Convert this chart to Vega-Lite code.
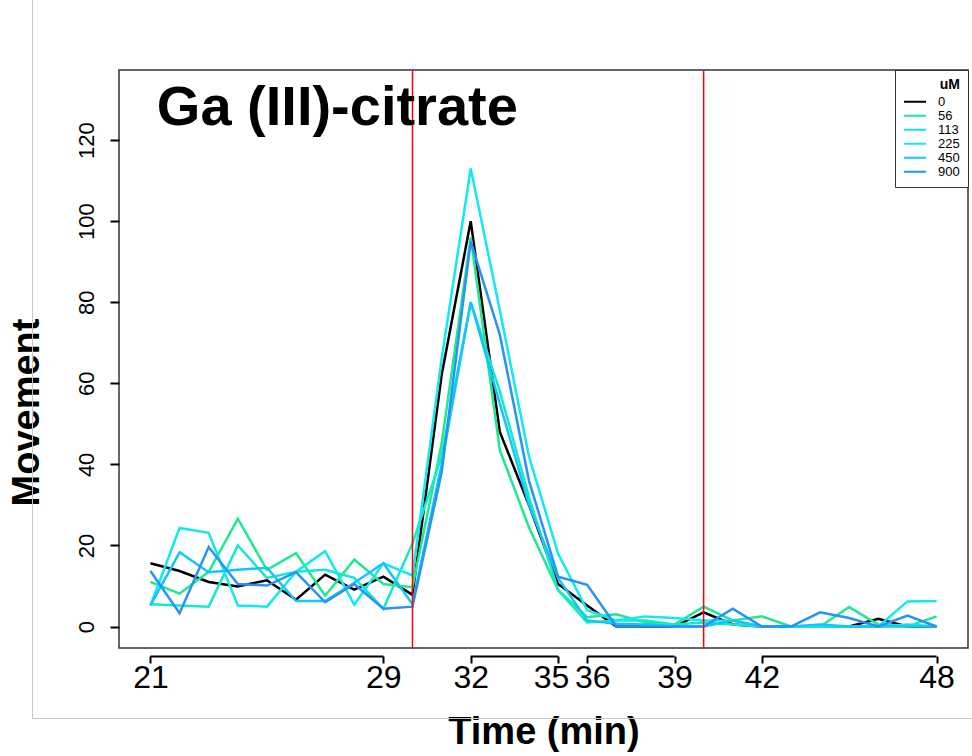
{
  "$schema": "https://vega.github.io/schema/vega-lite/v6.json",
  "autosize": "none",
  "width": 849,
  "height": 578,
  "padding": {"left": 119, "top": 70, "right": 4, "bottom": 108},
  "background": "white",
  "config": {
    "view": {"stroke": "#333333", "strokeWidth": 1.5},
    "font": "Liberation Sans",
    "axisX": {
      "domain": false, "grid": false, "ticks": true, "tickSize": 7, "tickColor": "black", "tickWidth": 2,
      "offset": 8, "labelFontSize": 32, "labelColor": "black", "labelPadding": -1,
      "labelOverlap": false, "labelFlush": false,
      "titleFontSize": 38, "titleFontWeight": "bold", "titleColor": "black", "titlePadding": 20
    },
    "axisY": {
      "domain": false, "grid": false, "ticks": true, "tickSize": 9, "tickColor": "black", "tickWidth": 2,
      "labelAngle": -90, "labelFontSize": 22, "labelColor": "black", "labelPadding": 12,
      "labelAlign": "center", "labelBaseline": "bottom",
      "titleFontSize": 38, "titleFontWeight": "bold", "titleColor": "black",
      "titleAngle": 270, "titleBaseline": "alphabetic", "titleAlign": "center", "titleX": -81, "titleY": 342
    }
  },
  "datasets": {
    "brackets": [
      {"from": 21, "to": 29},
      {"from": 32, "to": 35},
      {"from": 36, "to": 39},
      {"from": 42, "to": 48}
    ],
    "markers": [{"t": 30}, {"t": 40}],
    "series": [
      {"t": 21, "uM": "0", "v": 15.6}, {"t": 22, "uM": "0", "v": 13.7}, {"t": 23, "uM": "0", "v": 11.0}, {"t": 24, "uM": "0", "v": 9.9},
      {"t": 25, "uM": "0", "v": 11.4}, {"t": 26, "uM": "0", "v": 6.6}, {"t": 27, "uM": "0", "v": 12.8}, {"t": 28, "uM": "0", "v": 9.1},
      {"t": 29, "uM": "0", "v": 12.3}, {"t": 30, "uM": "0", "v": 7.8}, {"t": 31, "uM": "0", "v": 62}, {"t": 32, "uM": "0", "v": 100},
      {"t": 33, "uM": "0", "v": 48}, {"t": 34, "uM": "0", "v": 30}, {"t": 35, "uM": "0", "v": 10.5}, {"t": 36, "uM": "0", "v": 5.2},
      {"t": 37, "uM": "0", "v": 0}, {"t": 38, "uM": "0", "v": 0}, {"t": 39, "uM": "0", "v": 0}, {"t": 40, "uM": "0", "v": 3.5},
      {"t": 41, "uM": "0", "v": 0.5}, {"t": 42, "uM": "0", "v": 0}, {"t": 43, "uM": "0", "v": 0}, {"t": 44, "uM": "0", "v": 0},
      {"t": 45, "uM": "0", "v": 0}, {"t": 46, "uM": "0", "v": 1.9}, {"t": 47, "uM": "0", "v": 0}, {"t": 48, "uM": "0", "v": 0},

      {"t": 21, "uM": "56", "v": 11.0}, {"t": 22, "uM": "56", "v": 8.1}, {"t": 23, "uM": "56", "v": 13.5}, {"t": 24, "uM": "56", "v": 26.6},
      {"t": 25, "uM": "56", "v": 14.0}, {"t": 26, "uM": "56", "v": 18.1}, {"t": 27, "uM": "56", "v": 7.6}, {"t": 28, "uM": "56", "v": 16.5},
      {"t": 29, "uM": "56", "v": 10.5}, {"t": 30, "uM": "56", "v": 9.7}, {"t": 31, "uM": "56", "v": 45}, {"t": 32, "uM": "56", "v": 96},
      {"t": 33, "uM": "56", "v": 43.5}, {"t": 34, "uM": "56", "v": 24.5}, {"t": 35, "uM": "56", "v": 9}, {"t": 36, "uM": "56", "v": 2.3},
      {"t": 37, "uM": "56", "v": 3.0}, {"t": 38, "uM": "56", "v": 1.0}, {"t": 39, "uM": "56", "v": 0.5}, {"t": 40, "uM": "56", "v": 4.9},
      {"t": 41, "uM": "56", "v": 1.5}, {"t": 42, "uM": "56", "v": 2.5}, {"t": 43, "uM": "56", "v": 0}, {"t": 44, "uM": "56", "v": 0},
      {"t": 45, "uM": "56", "v": 4.8}, {"t": 46, "uM": "56", "v": 0.5}, {"t": 47, "uM": "56", "v": 0}, {"t": 48, "uM": "56", "v": 2.5},

      {"t": 21, "uM": "113", "v": 5.5}, {"t": 22, "uM": "113", "v": 5.2}, {"t": 23, "uM": "113", "v": 4.9}, {"t": 24, "uM": "113", "v": 20.0},
      {"t": 25, "uM": "113", "v": 12.0}, {"t": 26, "uM": "113", "v": 13.5}, {"t": 27, "uM": "113", "v": 14.0}, {"t": 28, "uM": "113", "v": 12.0},
      {"t": 29, "uM": "113", "v": 4.4}, {"t": 30, "uM": "113", "v": 20.5}, {"t": 31, "uM": "113", "v": 42}, {"t": 32, "uM": "113", "v": 80},
      {"t": 33, "uM": "113", "v": 58}, {"t": 34, "uM": "113", "v": 32}, {"t": 35, "uM": "113", "v": 9}, {"t": 36, "uM": "113", "v": 1.0},
      {"t": 37, "uM": "113", "v": 1.5}, {"t": 38, "uM": "113", "v": 1.5}, {"t": 39, "uM": "113", "v": 0.5}, {"t": 40, "uM": "113", "v": 1.0},
      {"t": 41, "uM": "113", "v": 0.5}, {"t": 42, "uM": "113", "v": 0}, {"t": 43, "uM": "113", "v": 0}, {"t": 44, "uM": "113", "v": 0},
      {"t": 45, "uM": "113", "v": 0}, {"t": 46, "uM": "113", "v": 0}, {"t": 47, "uM": "113", "v": 0.5}, {"t": 48, "uM": "113", "v": 0},

      {"t": 21, "uM": "225", "v": 5.2}, {"t": 22, "uM": "225", "v": 24.3}, {"t": 23, "uM": "225", "v": 23.1}, {"t": 24, "uM": "225", "v": 5.2},
      {"t": 25, "uM": "225", "v": 4.9}, {"t": 26, "uM": "225", "v": 13.5}, {"t": 27, "uM": "225", "v": 18.6}, {"t": 28, "uM": "225", "v": 5.4},
      {"t": 29, "uM": "225", "v": 15.6}, {"t": 30, "uM": "225", "v": 12.6}, {"t": 31, "uM": "225", "v": 66}, {"t": 32, "uM": "225", "v": 113},
      {"t": 33, "uM": "225", "v": 78}, {"t": 34, "uM": "225", "v": 42}, {"t": 35, "uM": "225", "v": 18}, {"t": 36, "uM": "225", "v": 4},
      {"t": 37, "uM": "225", "v": 1.5}, {"t": 38, "uM": "225", "v": 2.5}, {"t": 39, "uM": "225", "v": 2.1}, {"t": 40, "uM": "225", "v": 1.5},
      {"t": 41, "uM": "225", "v": 1.5}, {"t": 42, "uM": "225", "v": 0}, {"t": 43, "uM": "225", "v": 0}, {"t": 44, "uM": "225", "v": 0},
      {"t": 45, "uM": "225", "v": 0}, {"t": 46, "uM": "225", "v": 0}, {"t": 47, "uM": "225", "v": 6.2}, {"t": 48, "uM": "225", "v": 6.3},

      {"t": 21, "uM": "450", "v": 5.2}, {"t": 22, "uM": "450", "v": 18.3}, {"t": 23, "uM": "450", "v": 13.4}, {"t": 24, "uM": "450", "v": 14.0},
      {"t": 25, "uM": "450", "v": 14.5}, {"t": 26, "uM": "450", "v": 6.3}, {"t": 27, "uM": "450", "v": 6.3}, {"t": 28, "uM": "450", "v": 10.8},
      {"t": 29, "uM": "450", "v": 15.6}, {"t": 30, "uM": "450", "v": 5.5}, {"t": 31, "uM": "450", "v": 40}, {"t": 32, "uM": "450", "v": 80},
      {"t": 33, "uM": "450", "v": 55}, {"t": 34, "uM": "450", "v": 30}, {"t": 35, "uM": "450", "v": 12}, {"t": 36, "uM": "450", "v": 1.5},
      {"t": 37, "uM": "450", "v": 0.7}, {"t": 38, "uM": "450", "v": 0.5}, {"t": 39, "uM": "450", "v": 0}, {"t": 40, "uM": "450", "v": 0},
      {"t": 41, "uM": "450", "v": 1.5}, {"t": 42, "uM": "450", "v": 0}, {"t": 43, "uM": "450", "v": 0}, {"t": 44, "uM": "450", "v": 0.5},
      {"t": 45, "uM": "450", "v": 0}, {"t": 46, "uM": "450", "v": 0}, {"t": 47, "uM": "450", "v": 0}, {"t": 48, "uM": "450", "v": 0},

      {"t": 21, "uM": "900", "v": 13.7}, {"t": 22, "uM": "900", "v": 3.3}, {"t": 23, "uM": "900", "v": 19.6}, {"t": 24, "uM": "900", "v": 10.5},
      {"t": 25, "uM": "900", "v": 10.1}, {"t": 26, "uM": "900", "v": 13.4}, {"t": 27, "uM": "900", "v": 6.0}, {"t": 28, "uM": "900", "v": 10.5},
      {"t": 29, "uM": "900", "v": 4.4}, {"t": 30, "uM": "900", "v": 4.9}, {"t": 31, "uM": "900", "v": 38}, {"t": 32, "uM": "900", "v": 95},
      {"t": 33, "uM": "900", "v": 72}, {"t": 34, "uM": "900", "v": 36}, {"t": 35, "uM": "900", "v": 12.3}, {"t": 36, "uM": "900", "v": 10.3},
      {"t": 37, "uM": "900", "v": 0}, {"t": 38, "uM": "900", "v": 0}, {"t": 39, "uM": "900", "v": 0}, {"t": 40, "uM": "900", "v": 0},
      {"t": 41, "uM": "900", "v": 4.4}, {"t": 42, "uM": "900", "v": 0}, {"t": 43, "uM": "900", "v": 0}, {"t": 44, "uM": "900", "v": 3.5},
      {"t": 45, "uM": "900", "v": 2.1}, {"t": 46, "uM": "900", "v": 0}, {"t": 47, "uM": "900", "v": 2.7}, {"t": 48, "uM": "900", "v": 0}
    ]
  },
  "layer": [
    {
      "data": {"values": [{}]},
      "mark": {"type": "rule", "clip": false, "color": "#c8c8c8", "strokeWidth": 1},
      "encoding": {
        "x": {"datum": 16.95, "type": "quantitative", "scale": {"domain": [19.92, 49.08], "nice": false, "zero": false},
              "axis": {"title": "Time (min)", "values": [21, 29, 32, 35, 36, 39, 42, 48],
                       "labelOffset": {"condition": [{"test": "datum.value == 35", "value": -7}, {"test": "datum.value == 36", "value": 5}], "value": 0}}},
        "y": {"datum": -22.7, "type": "quantitative", "scale": {"domain": [-5.3, 137.3], "nice": false, "zero": false},
              "axis": {"title": "Movement", "values": [0, 20, 40, 60, 80, 100, 120]}},
        "y2": {"datum": 160}
      }
    },
    {
      "data": {"values": [{}]},
      "mark": {"type": "rule", "clip": false, "color": "#c8c8c8", "strokeWidth": 1},
      "encoding": {
        "x": {"datum": 16.95, "type": "quantitative", "scale": {"domain": [19.92, 49.08], "nice": false, "zero": false},
              "axis": {"title": "Time (min)", "values": [21, 29, 32, 35, 36, 39, 42, 48],
                       "labelOffset": {"condition": [{"test": "datum.value == 35", "value": -7}, {"test": "datum.value == 36", "value": 5}], "value": 0}}},
        "x2": {"datum": 51},
        "y": {"datum": -22.7, "type": "quantitative", "scale": {"domain": [-5.3, 137.3], "nice": false, "zero": false},
              "axis": {"title": "Movement", "values": [0, 20, 40, 60, 80, 100, 120]}}
      }
    },
    {
      "data": {"name": "series"},
      "mark": {"type": "line", "strokeWidth": 2.5, "strokeJoin": "miter"},
      "encoding": {
        "x": {"field": "t", "type": "quantitative", "scale": {"domain": [19.92, 49.08], "nice": false, "zero": false},
              "axis": {"title": "Time (min)", "values": [21, 29, 32, 35, 36, 39, 42, 48],
                       "labelOffset": {"condition": [{"test": "datum.value == 35", "value": -7}, {"test": "datum.value == 36", "value": 5}], "value": 0}}},
        "y": {"field": "v", "type": "quantitative", "scale": {"domain": [-5.3, 137.3], "nice": false, "zero": false},
              "axis": {"title": "Movement", "values": [0, 20, 40, 60, 80, 100, 120]}},
        "color": {
          "field": "uM", "type": "nominal",
          "scale": {
            "domain": ["0", "56", "113", "225", "450", "900"],
            "range": ["#000000", "#1EE890", "#12EBCB", "#10EAF0", "#14C4FA", "#2694F6"]
          },
          "legend": {
            "orient": "top-right", "offset": 0,
            "title": "uM", "titleAnchor": "end", "titleFontSize": 14, "titleFontWeight": "bold", "titleColor": "black", "titlePadding": 3,
            "labelFontSize": 13, "labelColor": "black", "labelOffset": 11,
            "symbolType": "stroke", "symbolSize": 484, "symbolStrokeWidth": 2,
            "clipHeight": 13.6,
            "strokeColor": "#333333", "fillColor": "white", "padding": 8, "rowPadding": 0
          }
        }
      }
    },
    {
      "data": {"name": "markers"},
      "mark": {"type": "rule", "color": "red", "strokeWidth": 1.5},
      "encoding": {
        "x": {"field": "t", "type": "quantitative", "scale": {"domain": [19.92, 49.08], "nice": false, "zero": false},
              "axis": {"title": "Time (min)", "values": [21, 29, 32, 35, 36, 39, 42, 48],
                       "labelOffset": {"condition": [{"test": "datum.value == 35", "value": -7}, {"test": "datum.value == 36", "value": 5}], "value": 0}}}
      }
    },
    {
      "data": {"values": [{}]},
      "mark": {"type": "text", "align": "left", "baseline": "alphabetic", "fontSize": 56, "fontWeight": "bold", "color": "black", "font": "Liberation Sans"},
      "encoding": {
        "x": {"datum": 21.22, "type": "quantitative", "scale": {"domain": [19.92, 49.08], "nice": false, "zero": false},
              "axis": {"title": "Time (min)", "values": [21, 29, 32, 35, 36, 39, 42, 48],
                       "labelOffset": {"condition": [{"test": "datum.value == 35", "value": -7}, {"test": "datum.value == 36", "value": 5}], "value": 0}}},
        "y": {"datum": 123.7, "type": "quantitative", "scale": {"domain": [-5.3, 137.3], "nice": false, "zero": false},
              "axis": {"title": "Movement", "values": [0, 20, 40, 60, 80, 100, 120]}},
        "text": {"value": "Ga (III)-citrate"}
      }
    },
    {
      "data": {"name": "brackets"},
      "mark": {"type": "rule", "clip": false, "color": "black", "strokeWidth": 2},
      "encoding": {
        "x": {"field": "from", "type": "quantitative", "scale": {"domain": [19.92, 49.08], "nice": false, "zero": false},
              "axis": {"title": "Time (min)", "values": [21, 29, 32, 35, 36, 39, 42, 48],
                       "labelOffset": {"condition": [{"test": "datum.value == 35", "value": -7}, {"test": "datum.value == 36", "value": 5}], "value": 0}}},
        "x2": {"field": "to"},
        "y": {"datum": -7.4, "type": "quantitative", "scale": {"domain": [-5.3, 137.3], "nice": false, "zero": false},
              "axis": {"title": "Movement", "values": [0, 20, 40, 60, 80, 100, 120]}}
      }
    }
  ]
}
